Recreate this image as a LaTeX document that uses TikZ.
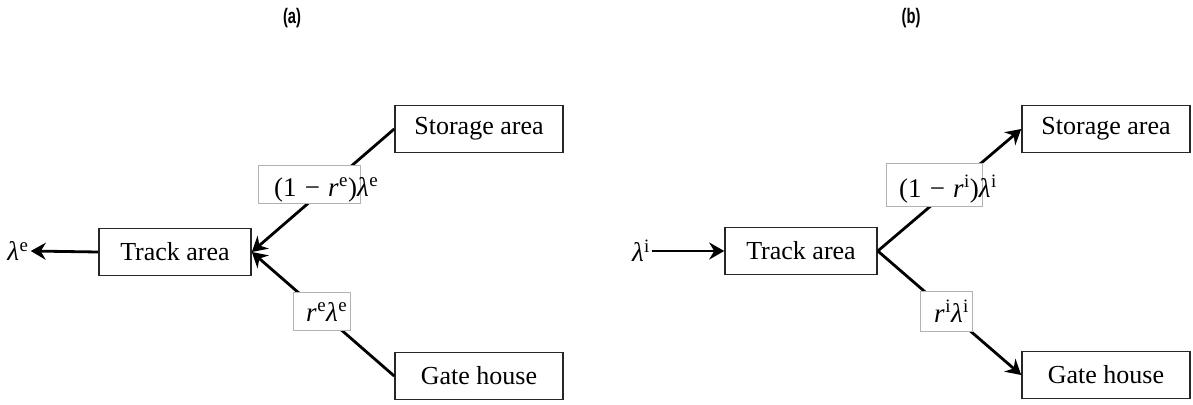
\documentclass[tikz,border=0pt]{standalone}
\usepackage{fontspec}
\setmainfont{Liberation Serif}
\newfontfamily\capfont{Liberation Sans}
\usetikzlibrary{arrows.meta}
% rates set in text italics so they share the serif's weight
\newcommand{\sym}[2]{\textit{#1}\/\kern0.5pt\textsuperscript{#2}}
\newcommand{\mns}{\hspace{0.3em}−\hspace{0.3em}}
\begin{document}
\begin{tikzpicture}[x=1pt,y=-1pt,
  every node/.style={font=\fontsize{26}{30}\selectfont},
  areabox/.style={draw=black!85, line width=1.6pt, minimum height=47pt, inner sep=0pt},
  trackbox/.style={areabox, minimum width=152pt},
  sidebox/.style={areabox, minimum width=168pt},
  ratebox/.style={draw=black!30, line width=1pt, fill=white, inner sep=0pt},
  flow/.style={line width=2.8pt, -{Stealth[length=15pt,width=17pt,inset=5pt]}},
  rate/.style={inner sep=0pt, anchor=base west, font=\fontsize{27}{30}\selectfont},
  panel/.style={font=\capfont\bfseries\fontsize{21}{24}\selectfont}]
\useasboundingbox (0,0) rectangle (1193,404);

% ---- panel (a): outbound flow ----
\node[panel] (capa) at (292,18) {\scalebox{0.7}[1]{(a)}};
\node[trackbox] (tra) at (175,252) {Track area};
\node[sidebox] (sta) at (479,129) {Storage area};
\node[sidebox] (gta) at (479,376) {Gate house};
\node[inner sep=2pt, font=\fontsize{27}{30}\selectfont] (lea) at (18,251) {\sym{λ}{e}};

\draw[flow] (sta.west) -- (tra.east);
\draw[flow] (gta.west) -- (tra.east);
\draw[flow] (tra.west) -- (lea.east);

\node[ratebox, minimum width=102pt, minimum height=38pt] (rba1) at (309,184) {};
\node[rate] (rta1) at (274,196) {(1\mns\sym{r}{e})\sym{λ}{e}};
\node[ratebox, minimum width=57pt, minimum height=38pt] (rba2) at (321.5,311) {};
\node[rate] (rta2) at (306,321) {\sym{r}{e}\sym{λ}{e}};

% ---- panel (b): inbound flow ----
\node[panel] (capb) at (911,18) {\scalebox{0.7}[1]{(b)}};
\node[trackbox] (trb) at (801,251) {Track area};
\node[sidebox] (stb) at (1106,129) {Storage area};
\node[sidebox] (gtb) at (1106,375) {Gate house};
\node[inner sep=2pt, font=\fontsize{27}{30}\selectfont] (lib) at (641,251) {\sym{λ}{i}};

\draw[flow] (lib.east) -- (trb.west);
\draw[flow] (trb.east) -- (stb.west);
\draw[flow] (trb.east) -- (gtb.west);

\node[ratebox, minimum width=96pt, minimum height=43pt] (rbb1) at (934,184.5) {};
\node[rate] (rtb1) at (899,197) {(1\mns\sym{r}{i})\sym{λ}{i}};
\node[ratebox, minimum width=52pt, minimum height=40pt] (rbb2) at (946,311) {};
\node[rate] (rtb2) at (934,322) {\sym{r}{i}\sym{λ}{i}};
\end{tikzpicture}
\end{document}
